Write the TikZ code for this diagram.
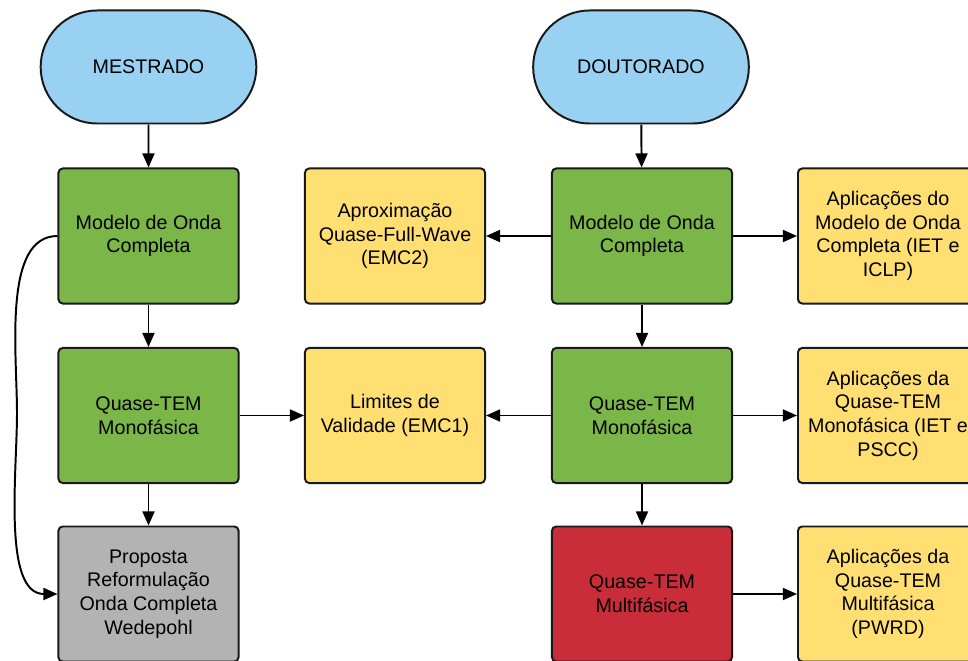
\documentclass[tikz,border=0pt]{standalone}
\usepackage{fontspec}
\setmainfont{Liberation Sans}
\usetikzlibrary{arrows.meta,shapes.misc}

\definecolor{termblue}{RGB}{153,209,243}
\definecolor{boxgreen}{RGB}{122,182,72}
\definecolor{boxyellow}{RGB}{255,223,113}
\definecolor{boxred}{RGB}{201,45,57}
\definecolor{boxgray}{RGB}{179,179,179}

\begin{document}
\begin{tikzpicture}[x=0.025cm,y=0.025cm,
    every node/.style={font=\fontsize{14}{16.8}\selectfont,align=center,text=black},
    box/.style={draw=black!90,line width=1.4pt,rounded corners=3pt,
      minimum width=4.5cm,minimum height=3.375cm,inner sep=2pt},
    term/.style={rounded rectangle,draw=black!90,line width=1.4pt,fill=termblue,
      minimum width=5.625cm,minimum height=2.825cm},
    arr/.style={-{Triangle[length=10pt,width=8.5pt]},line width=1.4pt,black}]
  \useasboundingbox (0,0) rectangle (968,660);

  \node[term] (mest) at (148.5,593) {MESTRADO};
  \node[term] (dout) at (641,593) {DOUTORADO};

  \node[box,fill=boxgreen] (mwave) at (148.5,424) {Modelo de Onda\\Completa};
  \node[box,fill=boxgreen] (mqtem) at (148.5,244.5) {Quase-TEM\\Monofásica};
  \node[box,fill=boxgray] (prop) at (148.5,66)
    {Proposta\\Reformulação\\Onda Completa\\Wedepohl};

  \node[box,fill=boxyellow] (aprox) at (395,424) {Aproximação\\Quase-Full-Wave\\(EMC2)};
  \node[box,fill=boxyellow] (lim) at (395,244.5) {Limites de\\Validade (EMC1)};

  \node[box,fill=boxgreen] (dwave) at (642,424) {Modelo de Onda\\Completa};
  \node[box,fill=boxgreen] (dqtem) at (642,244.5) {Quase-TEM\\Monofásica};
  \node[box,fill=boxred] (multi) at (642,66) {Quase-TEM\\Multifásica};

  \node[box,fill=boxyellow] (apwave) at (888,424)
    {Aplicações do\\Modelo de Onda\\Completa (IET e\\ICLP)};
  \node[box,fill=boxyellow] (apmono) at (888,244.5)
    {Aplicações da\\Quase-TEM\\Monofásica (IET e\\PSCC)};
  \node[box,fill=boxyellow] (apmulti) at (888,66)
    {Aplicações da\\Quase-TEM\\Multifásica\\(PWRD)};

  \draw[arr] (mest) -- (mwave);
  \draw[arr] (mwave) -- (mqtem);
  \draw[arr] (mqtem) -- (prop);
  \draw[arr] (mqtem) -- (lim);

  \draw[arr] (dout) -- (dwave);
  \draw[arr] (dwave) -- (dqtem);
  \draw[arr] (dqtem) -- (multi);
  \draw[arr] (dwave) -- (aprox);
  \draw[arr] (dwave) -- (apwave);
  \draw[arr] (dqtem) -- (lim);
  \draw[arr] (dqtem) -- (apmono);
  \draw[arr] (multi) -- (apmulti);

  \coordinate (bend) at (17,247);
  \draw[arr] (mwave.west) .. controls +(-55,0) and +(0,60) .. (bend)
    .. controls +(0,-60) and +(-55,0) .. (prop.west);
\end{tikzpicture}
\end{document}
